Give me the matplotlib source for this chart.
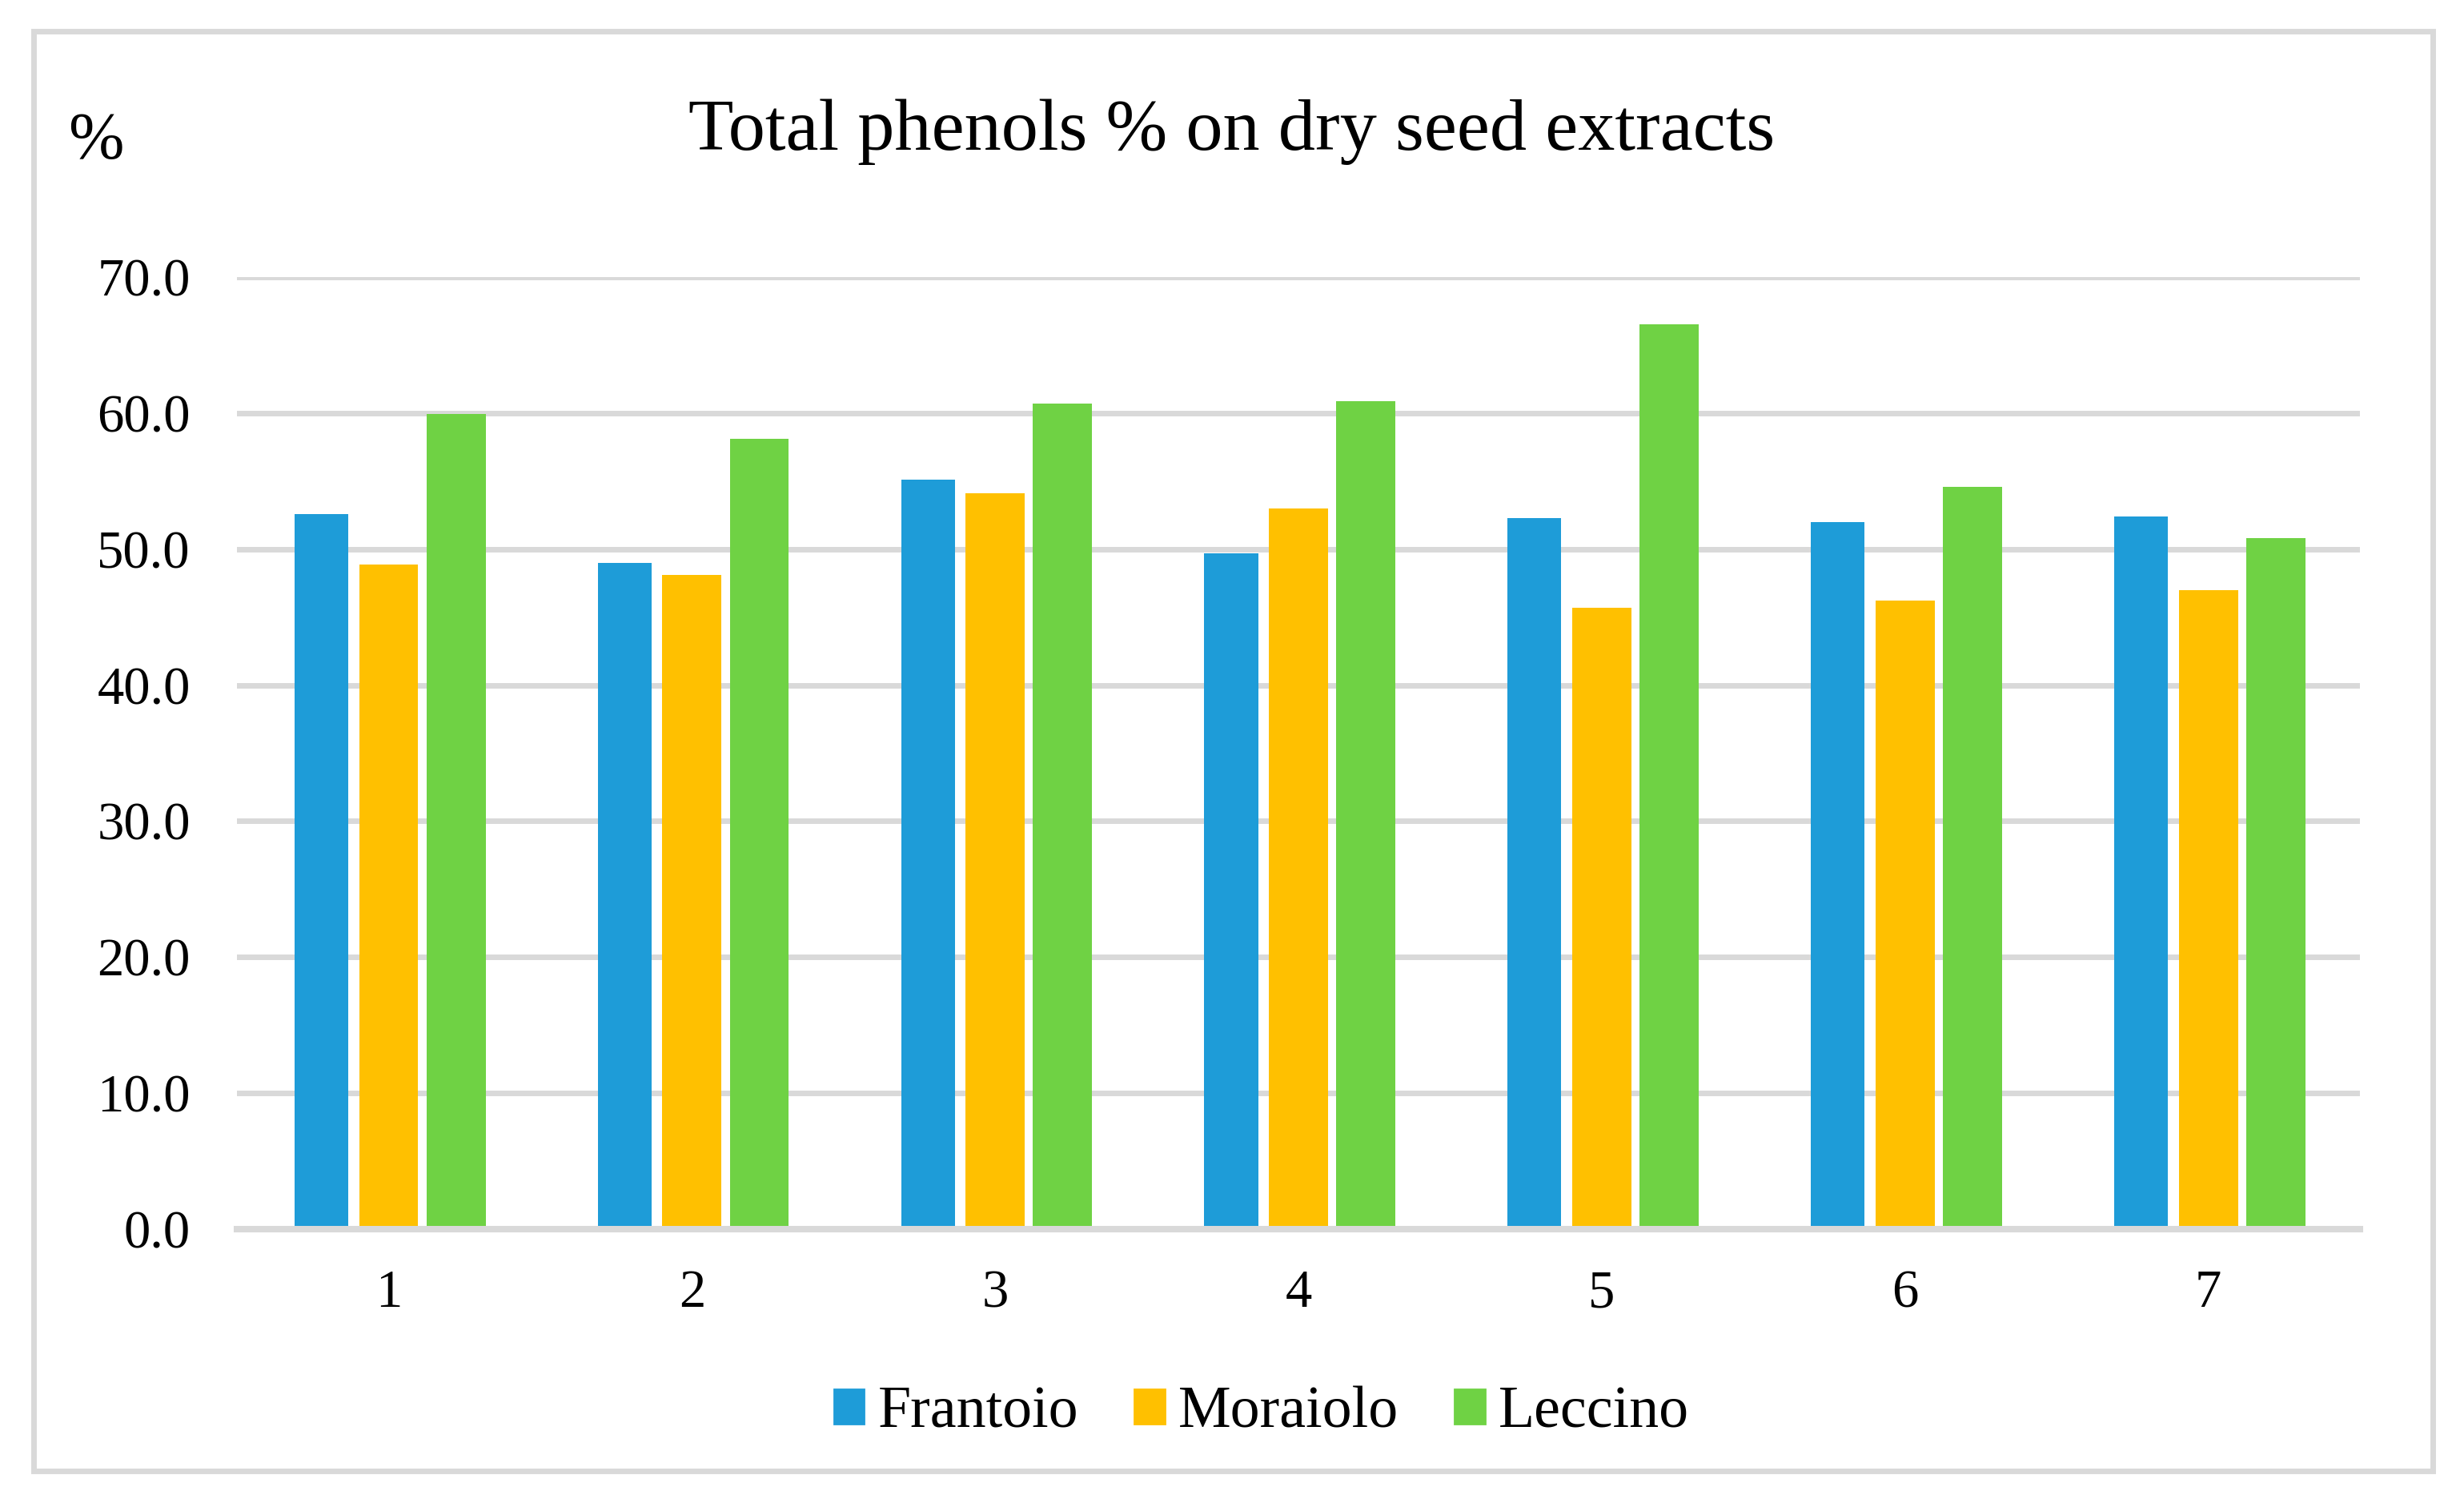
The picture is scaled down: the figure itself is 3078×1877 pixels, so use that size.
import numpy as np
import matplotlib
matplotlib.use("Agg")
import matplotlib.pyplot as plt
from matplotlib.patches import Rectangle, Patch

plt.rcParams["font.family"] = ["Liberation Serif", "DejaVu Serif"]

samples = ["1", "2", "3", "4", "5", "6", "7"]
frantoio = [52.6, 49.0, 55.1, 49.7, 52.3, 52.0, 52.4]
moraiolo = [48.85, 48.1, 54.1, 53.0, 45.7, 46.2, 47.0]
leccino = [59.9, 58.1, 60.7, 60.9, 66.5, 54.6, 50.8]

c_blue = "#1e9cd8"
c_orange = "#ffc000"
c_green = "#6fd244"
c_grid = "#d9d9d9"

fig = plt.figure(figsize=(15.39, 9.385), dpi=200)
ax = fig.add_axes([0.0962, 0.1822, 0.8616, 0.6335])

x = np.arange(len(samples))
step = 0.222
ax.bar(x - step, frantoio, width=0.177, color=c_blue, zorder=3)
ax.bar(x, moraiolo, width=0.195, color=c_orange, zorder=3)
ax.bar(x + step, leccino, width=0.195, color=c_green, zorder=3)

ax.set_xlim(-0.5, len(samples) - 0.5)
ax.set_ylim(0, 70)
ax.set_yticks(np.arange(0, 71, 10))
ax.set_yticklabels([f"{v:.1f}" for v in np.arange(0, 71, 10)])
ax.set_xticks(x)
ax.set_xticklabels(samples)
ax.tick_params(axis="y", length=0, pad=21, labelsize=24)
ax.tick_params(axis="x", length=0, pad=18, labelsize=24)

ax.grid(axis="y", color=c_grid, linewidth=2.5, zorder=0)
ax.set_axisbelow(True)
for s in ["top", "right", "left"]:
    ax.spines[s].set_visible(False)
ax.spines["bottom"].set_color(c_grid)
ax.spines["bottom"].set_linewidth(2.9)
ax.spines["bottom"].set_zorder(4)

fig.text(0.5, 0.9004, "Total phenols % on dry seed extracts",
         ha="center", va="baseline", fontsize=33.2)
fig.text(0.0276, 0.895, "%", ha="left", va="baseline", fontsize=30)

handles = [Patch(color=c_blue, label="Frantoio"),
           Patch(color=c_orange, label="Moraiolo"),
           Patch(color=c_green, label="Leccino")]
fig.legend(handles=handles, loc="center", bbox_to_anchor=(0.512, 0.0597),
           ncol=3, frameon=False, fontsize=26.6, handlelength=0.51,
           handleheight=0.51, handletextpad=0.23, columnspacing=0.95)

# outer chart border
fig.patches.append(Rectangle((0.0135, 0.0215), 0.9738, 0.9575,
                             transform=fig.transFigure, fill=False,
                             edgecolor=c_grid, linewidth=2.5))

fig.savefig("out.png", dpi=200, facecolor="white")
